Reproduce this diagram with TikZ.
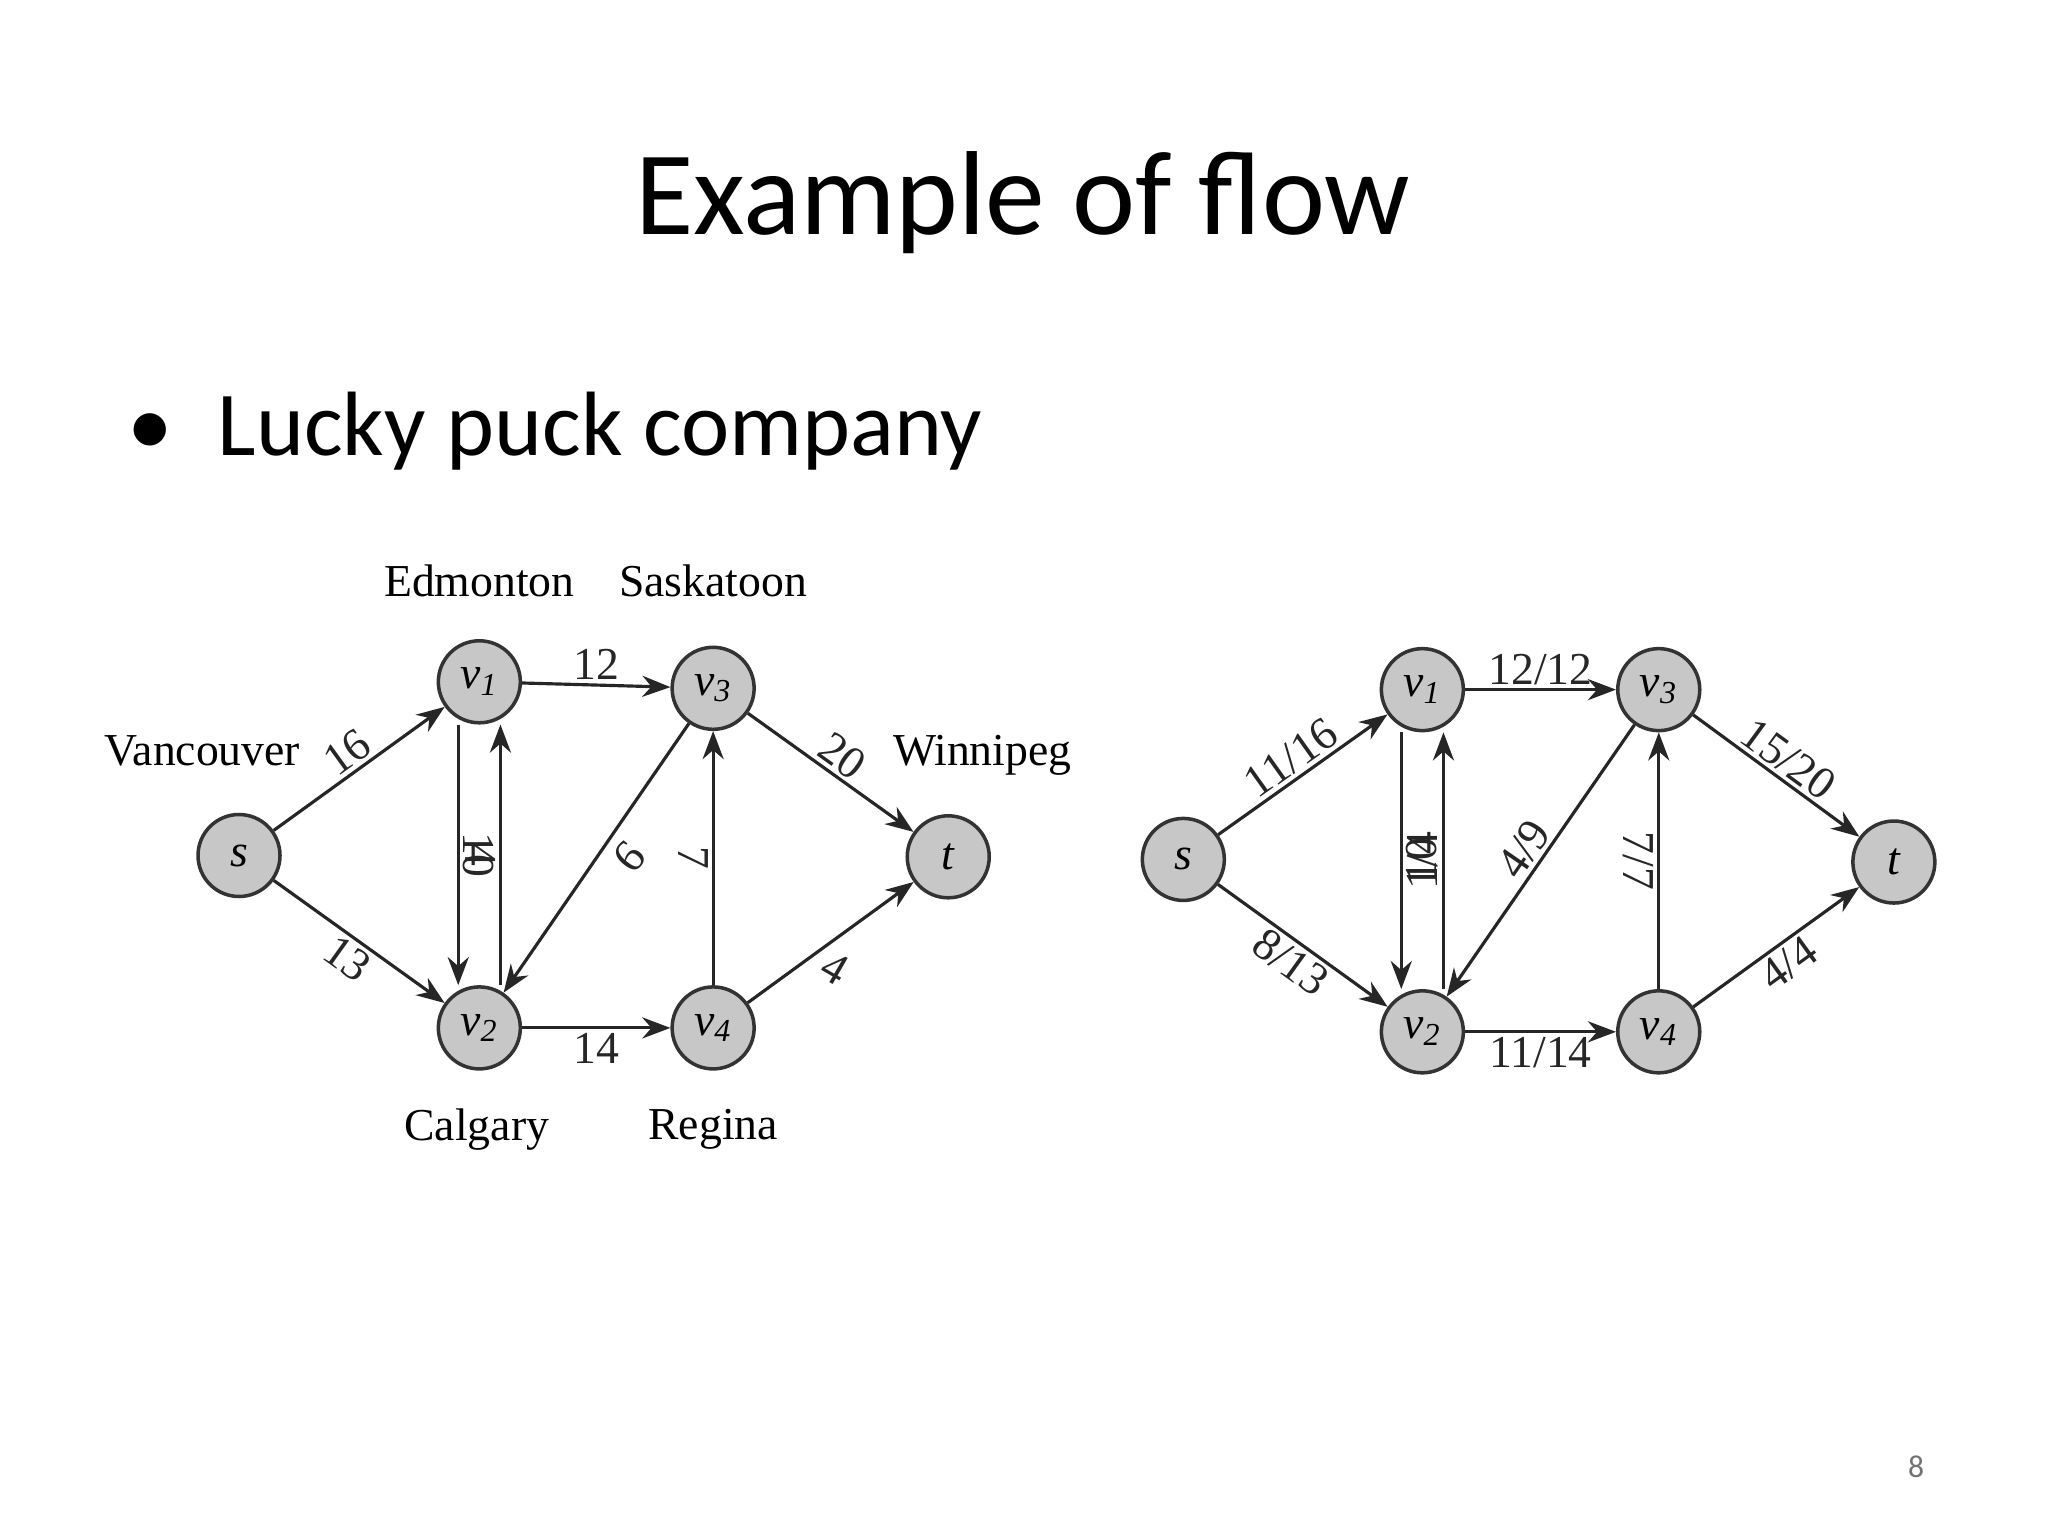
\documentclass[tikz,border=0pt]{standalone}
\usepackage{fontspec}
\setmainfont{Liberation Serif}
\newfontfamily\calfnt{Carlito}
\usetikzlibrary{arrows.meta}
\begin{document}
\begin{tikzpicture}[x=0.01306cm,y=-0.01306cm,
  nd/.style={circle,draw=black!80,fill=black!22,line width=1pt,minimum size=0.82cm,inner sep=0pt,font=\fontsize{13}{13}\selectfont\itshape},
  city/.style={font=\fontsize{13}{13}\selectfont},
  el/.style={font=\fontsize{13}{13}\selectfont,inner sep=1pt},
  ar/.style={-{Stealth[length=8pt,width=6pt]},line width=0.9pt,black!85}]
\useasboundingbox (0,0) rectangle (1568,1176);
\node[font=\calfnt\fontsize{34}{34}\selectfont] (title) at (783,155) {Example of flow};
\node[font=\calfnt\fontsize{26}{26}\selectfont,anchor=west] (bul) at (88,330) {\textbullet\hspace{0.45cm}Lucky puck company};
\node[font=\calfnt\fontsize{9}{9}\selectfont,text=black!55] (pg) at (1467,1123) {8};
% left graph
\node[nd] (s) at (183,655) {s};
\node[nd] (a1) at (367,522) {v\textsubscript{1}};
\node[nd] (a3) at (546,527) {v\textsubscript{3}};
\node[nd] (t) at (726,656) {t};
\node[nd] (a2) at (367,787) {v\textsubscript{2}};
\node[nd] (a4) at (546,787) {v\textsubscript{4}};
\node[city] (c1) at (367,445) {Edmonton};
\node[city] (c3) at (546,445) {Saskatoon};
\node[city] (c0) at (155,575) {Vancouver};
\node[city] (c5) at (752,578) {Winnipeg};
\node[city] (c2) at (365,865) {Calgary};
\node[city] (c4) at (546,865) {Regina};
\draw[ar] (s) -- node[el,above,sloped] {16} (a1);
\draw[ar] (s) -- node[el,below,sloped] {13} (a2);
\draw[ar] (a1) -- node[el,above] {12} (a3);
\draw[ar] (a3) -- node[el,above,sloped] {20} (t);
\draw[ar] ([xshift=-6]a1.south) -- node[el,rotate=-90,anchor=south] {10} ([xshift=-6]a2.north);
\draw[ar] ([xshift=6]a2.north) -- node[el,rotate=-90,anchor=north] {4} ([xshift=6]a1.south);
\draw[ar] (a3) -- node[el,pos=0.45,right=10pt,rotate=-130] {9} (a2);
\draw[ar] (a4) -- node[el,rotate=-90,anchor=north] {7} (a3);
\draw[ar] (a2) -- node[el,below] {14} (a4);
\draw[ar] (a4) -- node[el,below right,rotate=-30] {4} (t);
% right graph
\node[nd] (rs) at (906,658) {s};
\node[nd] (b1) at (1089,528) {v\textsubscript{1}};
\node[nd] (b3) at (1270,528) {v\textsubscript{3}};
\node[nd] (rt) at (1450,660) {t};
\node[nd] (b2) at (1089,790) {v\textsubscript{2}};
\node[nd] (b4) at (1270,790) {v\textsubscript{4}};
\draw[ar] (rs) -- node[el,above,sloped] {11/16} (b1);
\draw[ar] (rs) -- node[el,below,sloped] {8/13} (b2);
\draw[ar] (b1) -- node[el,above] {12/12} (b3);
\draw[ar] (b3) -- node[el,above,sloped] {15/20} (rt);
\draw[ar] ([xshift=-6]b1.south) -- node[el,rotate=90,anchor=north] {10} ([xshift=-6]b2.north);
\draw[ar] ([xshift=6]b2.north) -- node[el,rotate=90,anchor=south] {1/4} ([xshift=6]b1.south);
\draw[ar] (b3) -- node[el,pos=0.5,above,sloped] {4/9} (b2);
\draw[ar] (b4) -- node[el,rotate=-90,anchor=north] {7/7} (b3);
\draw[ar] (b2) -- node[el,below] {11/14} (b4);
\draw[ar] (b4) -- node[el,below,sloped] {4/4} (rt);
\end{tikzpicture}
\end{document}
